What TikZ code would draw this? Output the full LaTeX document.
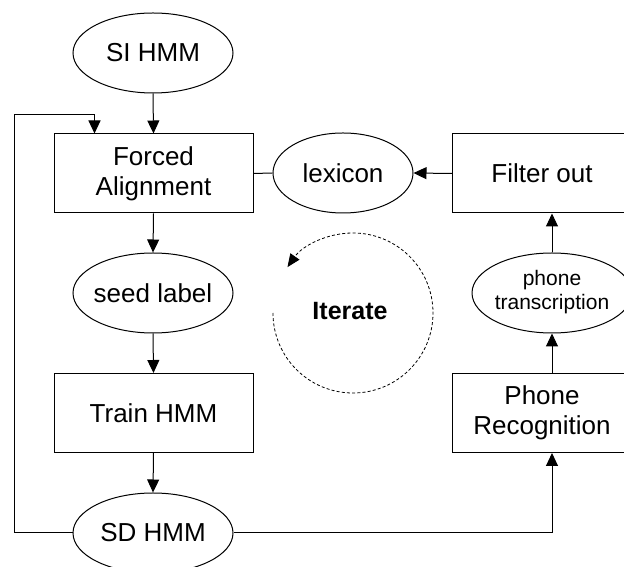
\documentclass[tikz,border=0pt]{standalone}
\usepackage{fontspec}
\setmainfont{Liberation Sans}
\usetikzlibrary{shapes.geometric,arrows.meta}
\newcommand\zw[1]{\makebox[0pt]{#1}}
\begin{document}
\begin{tikzpicture}[x=1pt,y=1pt,
  every node/.style={font=\fontsize{26}{30}\selectfont},
  box/.style={draw, line width=1pt, minimum width=199pt, minimum height=79pt, inner sep=0pt, align=center},
  oval/.style={draw, ellipse, line width=1pt, minimum width=160pt, minimum height=80pt, inner sep=0pt},
  lbl/.style={align=center, inner sep=0pt},
  arr/.style={line width=1pt, -{Triangle[length=13pt,width=12pt]}},
  ln/.style={line width=1pt}]
\clip (0,0) rectangle (624,567);
% left column
\node[oval] (SI) at (153,514) {\zw{SI HMM}};
\node[box] (FA) at (153.5,393.5) {Forced\\Alignment};
\node[oval] (SL) at (153,274) {\zw{seed label}};
\node[box] (TR) at (153.5,154) {Train HMM};
\node[oval] (SD) at (153,34) {\zw{SD HMM}};
% middle
\node[oval, minimum width=140pt] (LX) at (343,394) {\zw{lexicon}};
% right column
\node[box] (FO) at (552,393.5) {};
\node[lbl] (FOt) at (542,393.5) {Filter out};
\node[oval] (PT) at (552,274) {\zw{\fontsize{21}{24}\selectfont\begin{tabular}{@{}c@{}}phone\\transcription\end{tabular}}};
\node[box] (PR) at (552,154) {};
\node[lbl] (PRt) at (542,154) {Phone\\Recognition};
% iterate
\node[font=\fontsize{25}{30}\selectfont\bfseries] (IT) at (350,255.5) {Iterate};
\coordinate (IC) at (353,254);
\draw[line width=0.8pt, dash pattern=on 3pt off 2.2pt, -{Triangle[length=13pt,width=11pt]}]
  ([shift={(180:80)}]IC) arc[start angle=180, end angle=505, radius=80];
% connectors
\draw[arr] (SI.south) -- (FA.north);
\draw[arr] (FA.south) -- (SL.north);
\draw[arr] (SL.south) -- (TR.north);
\draw[arr] (TR.south) -- (SD.north);
\draw[ln] (FA.east) -- (LX.west);
\draw[arr] (FO.west) -- (LX.east);
\draw[arr] (PT.north) -- (FO.south);
\draw[arr] (PR.north) -- (PT.south);
\draw[arr] (SD.east) -| (PR.south);
\coordinate (LT) at (14,452);
\draw[arr] (SD.west) -| (LT) -| ([xshift=41pt]FA.north west);
\end{tikzpicture}
\end{document}
